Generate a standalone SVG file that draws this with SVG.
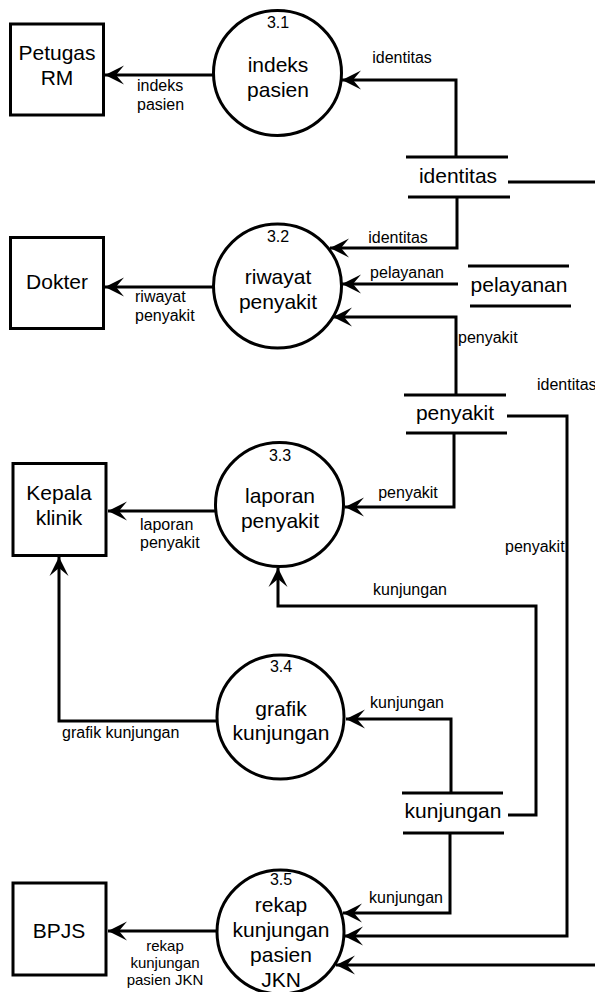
<svg xmlns="http://www.w3.org/2000/svg" width="595" height="992" viewBox="0 0 595 992">
  <style>
    text { font-family: "Liberation Sans", Arial, sans-serif; fill: #000; }
    .big { font-size: 21px; text-anchor: middle; }
    .num { font-size: 16px; text-anchor: middle; }
    .lbl { font-size: 16px; }
    .sm { font-size: 15px; }
    .mid { text-anchor: middle; }
    .box { fill: #fff; stroke: #000; stroke-width: 3; }
    .proc { fill: #fff; stroke: #000; stroke-width: 3; }
    .store { stroke: #000; stroke-width: 3; }
    .flow { fill: none; stroke: #000; stroke-width: 3; }
  </style>
  <defs>
    <marker id="arr" markerUnits="userSpaceOnUse" markerWidth="24" markerHeight="24" viewBox="-21 -12 24 24" refX="0" refY="0" orient="auto">
      <path d="M0,0 L-19,-9.5 L-11,0 L-19,9.5 Z" fill="#000"/>
    </marker>
  </defs>
  <rect width="595" height="992" fill="#fff"/>

  <!-- data flows -->
  <g id="connectors">
    <path class="flow" d="M213,75 H105" marker-end="url(#arr)"/>
    <path class="flow" d="M456,157 V80 H342" marker-end="url(#arr)"/>
    <path class="flow" d="M508,182 H600"/>
    <path class="flow" d="M213,287 H105" marker-end="url(#arr)"/>
    <path class="flow" d="M457,197 V248 H330" marker-end="url(#arr)"/>
    <path class="flow" d="M458,284 H342" marker-end="url(#arr)"/>
    <path class="flow" d="M456,395 V317 H333" marker-end="url(#arr)"/>
    <path class="flow" d="M507,416 H567 V936 H344" marker-end="url(#arr)"/>
    <path class="flow" d="M454,433 V507 H345" marker-end="url(#arr)"/>
    <path class="flow" d="M215,511 H108" marker-end="url(#arr)"/>
    <path class="flow" d="M217,721 H59 V557" marker-end="url(#arr)"/>
    <path class="flow" d="M508,815 H536 V606 H278 V568" marker-end="url(#arr)"/>
    <path class="flow" d="M451,793 V719 H346" marker-end="url(#arr)"/>
    <path class="flow" d="M450,833 V913 H343" marker-end="url(#arr)"/>
    <path class="flow" d="M600,965 H336" marker-end="url(#arr)"/>
    <path class="flow" d="M217,931 H108" marker-end="url(#arr)"/>

    <text class="lbl" x="137" y="91">indeks</text>
    <text class="lbl" x="137" y="110">pasien</text>
    <text class="lbl mid" x="402" y="63">identitas</text>
    <text class="lbl" x="135" y="302">riwayat</text>
    <text class="lbl" x="135" y="321">penyakit</text>
    <text class="lbl mid" x="398" y="243">identitas</text>
    <text class="lbl mid" x="407" y="278">pelayanan</text>
    <text class="lbl" x="458" y="343">penyakit</text>
    <text class="lbl" x="537" y="390">identitas</text>
    <text class="lbl mid" x="408" y="498">penyakit</text>
    <text class="lbl" x="505" y="552">penyakit</text>
    <text class="lbl" x="140" y="530">laporan</text>
    <text class="lbl" x="140" y="548">penyakit</text>
    <text class="lbl mid" x="410" y="595">kunjungan</text>
    <text class="lbl" x="62" y="738">grafik kunjungan</text>
    <text class="lbl mid" x="407" y="708">kunjungan</text>
    <text class="lbl mid" x="406" y="903">kunjungan</text>
    <text class="sm mid" x="165" y="951">rekap</text>
    <text class="sm mid" x="165" y="968">kunjungan</text>
    <text class="sm mid" x="165" y="985">pasien JKN</text>
  </g>

  <!-- external entities -->
  <g id="petugas-rm">
    <rect class="box" x="10.5" y="24" width="93" height="91"/>
    <text class="big" x="57" y="60">Petugas</text>
    <text class="big" x="57" y="85">RM</text>
  </g>
  <g id="dokter">
    <rect class="box" x="10.5" y="237.5" width="93" height="91"/>
    <text class="big" x="57" y="289">Dokter</text>
  </g>
  <g id="kepala-klinik">
    <rect class="box" x="13" y="463.5" width="93" height="92"/>
    <text class="big" x="59" y="500">Kepala</text>
    <text class="big" x="59" y="525">klinik</text>
  </g>
  <g id="bpjs">
    <rect class="box" x="13" y="883" width="93" height="92"/>
    <text class="big" x="59" y="938">BPJS</text>
  </g>

  <!-- processes -->
  <g id="p3-1">
    <ellipse class="proc" cx="277.5" cy="73" rx="64" ry="62.5"/>
    <text class="num" x="278" y="28">3.1</text>
    <text class="big" x="278" y="72">indeks</text>
    <text class="big" x="278" y="97">pasien</text>
  </g>
  <g id="p3-2">
    <ellipse class="proc" cx="277.5" cy="286" rx="64" ry="62"/>
    <text class="num" x="278" y="242">3.2</text>
    <text class="big" x="278" y="284">riwayat</text>
    <text class="big" x="278" y="309">penyakit</text>
  </g>
  <g id="p3-3">
    <ellipse class="proc" cx="279.5" cy="504.5" rx="64" ry="62"/>
    <text class="num" x="280" y="461">3.3</text>
    <text class="big" x="280" y="503">laporan</text>
    <text class="big" x="280" y="528">penyakit</text>
  </g>
  <g id="p3-4">
    <ellipse class="proc" cx="280.5" cy="717" rx="63.5" ry="62"/>
    <text class="num" x="281" y="672">3.4</text>
    <text class="big" x="281" y="716">grafik</text>
    <text class="big" x="281" y="740">kunjungan</text>
  </g>
  <g id="p3-5">
    <ellipse class="proc" cx="280.5" cy="932" rx="63.5" ry="62"/>
    <text class="num" x="281" y="885">3.5</text>
    <text class="big" x="281" y="912">rekap</text>
    <text class="big" x="281" y="937">kunjungan</text>
    <text class="big" x="281" y="962">pasien</text>
    <text class="big" x="281" y="987">JKN</text>
  </g>

  <!-- data stores -->
  <g id="ds-identitas">
    <line class="store" x1="406" y1="157" x2="508" y2="157"/>
    <line class="store" x1="408" y1="197" x2="510" y2="197"/>
    <text class="big" x="458" y="183">identitas</text>
  </g>
  <g id="ds-pelayanan">
    <line class="store" x1="468" y1="266" x2="569" y2="266"/>
    <line class="store" x1="470" y1="306" x2="571" y2="306"/>
    <text class="big" x="519" y="292">pelayanan</text>
  </g>
  <g id="ds-penyakit">
    <line class="store" x1="404" y1="395" x2="506" y2="395"/>
    <line class="store" x1="406" y1="433" x2="507" y2="433"/>
    <text class="big" x="455" y="420">penyakit</text>
  </g>
  <g id="ds-kunjungan">
    <line class="store" x1="402" y1="793" x2="503" y2="793"/>
    <line class="store" x1="403" y1="833" x2="504" y2="833"/>
    <text class="big" x="453" y="818">kunjungan</text>
  </g>
</svg>
